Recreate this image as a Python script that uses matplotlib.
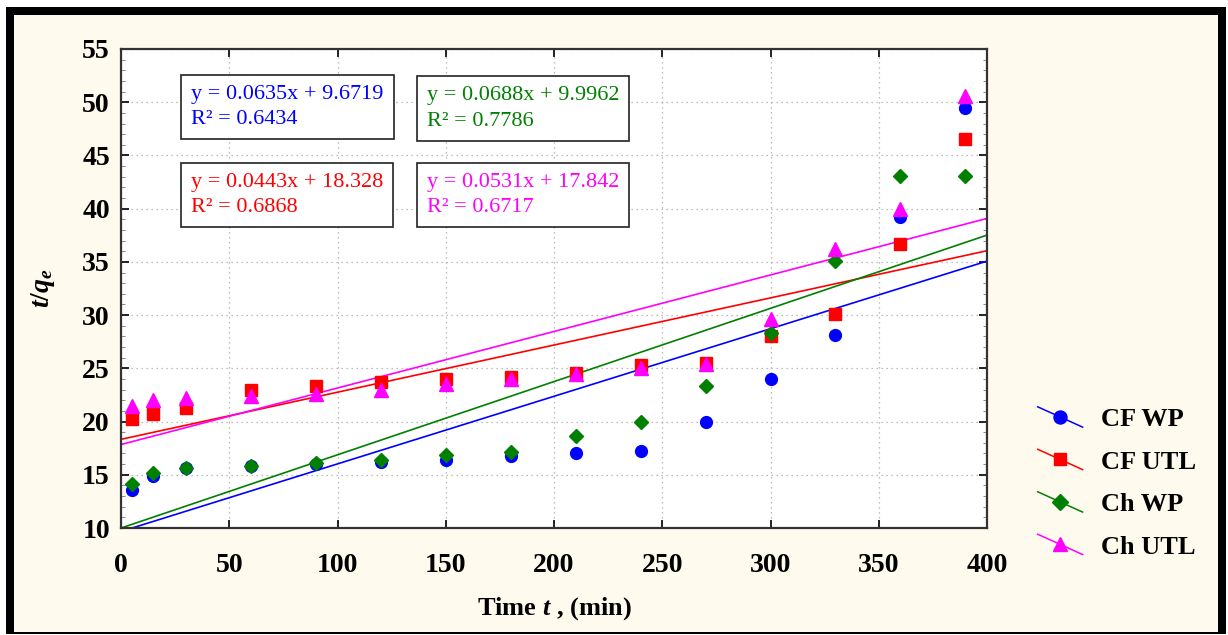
import numpy as np
import matplotlib
matplotlib.use("Agg")
import matplotlib.pyplot as plt
from matplotlib.lines import Line2D
from matplotlib.legend_handler import HandlerLine2D
from matplotlib.patches import Rectangle

plt.rcParams['font.family'] = ['Liberation Serif', 'DejaVu Serif']
plt.rcParams['mathtext.fontset'] = 'custom'
plt.rcParams['mathtext.it'] = 'Liberation Serif:italic:bold'
plt.rcParams['mathtext.rm'] = 'Liberation Serif:bold'

time = [5, 15, 30, 60, 90, 120, 150, 180, 210, 240, 270, 300, 330, 360, 390]
cf_wp = [13.6, 14.9, 15.6, 15.8, 16.0, 16.2, 16.4, 16.8, 17.0, 17.2, 20.0, 24.0, 28.1, 39.2, 49.5]
cf_utl = [20.2, 20.7, 21.3, 23.0, 23.3, 23.7, 24.0, 24.2, 24.6, 25.3, 25.5, 28.0, 30.1, 36.7, 46.5]
ch_wp = [14.1, 15.2, 15.6, 15.8, 16.1, 16.4, 16.9, 17.1, 18.6, 20.0, 23.3, 28.3, 35.1, 43.1, 43.1]
ch_utl = [21.5, 22.0, 22.2, 22.4, 22.6, 23.0, 23.5, 24.0, 24.5, 25.0, 25.4, 29.6, 36.2, 40.0, 50.6]

names = ['CF WP', 'CF UTL', 'Ch WP', 'Ch UTL']
series = [cf_wp, cf_utl, ch_wp, ch_utl]
slopes = [0.0635, 0.0443, 0.0688, 0.0531]
intercepts = [9.6719, 18.328, 9.9962, 17.842]
r2 = [0.6434, 0.6868, 0.7786, 0.6717]

colors = ['#0000FF', '#FF0000', '#008000', '#FF00FF']
markers = ['o', 's', 'D', '^']
msizes = [8.5, 8, 7, 9.5]


class SlantHandler(HandlerLine2D):
    def create_artists(self, legend, orig_handle, xdescent, ydescent,
                       width, height, fontsize, trans):
        xs = [-xdescent, -xdescent + width]
        ys = [-ydescent + height * 1.05, -ydescent - height * 0.05]
        line = Line2D(xs, ys, color=orig_handle.get_color(), lw=1.1)
        mk = Line2D([np.mean(xs)], [np.mean(ys)], linestyle='',
                    marker=orig_handle.get_marker(),
                    markersize=orig_handle.get_markersize() * 1.1,
                    color=orig_handle.get_color())
        line.set_transform(trans)
        mk.set_transform(trans)
        return [line, mk]


fig = plt.figure(figsize=(12.28, 6.35), dpi=100)
fig.patch.set_facecolor('white')
# frame round the whole picture
fig.patches.append(Rectangle((6 / 1228, 1 / 635), 1220 / 1228, 627 / 635,
                             transform=fig.transFigure, facecolor='black',
                             edgecolor='none', zorder=-10))
fig.patches.append(Rectangle((14 / 1228, 3 / 635), 1204 / 1228, 617 / 635,
                             transform=fig.transFigure, facecolor='#FFFAEE',
                             edgecolor='none', zorder=-9))

ax = fig.add_axes([121 / 1228, 107 / 635, 866 / 1228, 479 / 635])
ax.set_facecolor('white')

xfit = np.array([0, 400])
handles = []
for ys, name, c, m, ms, a, b in zip(series, names, colors, markers, msizes, slopes, intercepts):
    ax.plot(time, ys, linestyle='', marker=m, color=c, markersize=ms, zorder=3)
    ax.plot(xfit, a * xfit + b, color=c, lw=1.2, zorder=2)
    handles.append(Line2D([], [], color=c, marker=m, markersize=ms, lw=1.2))

ax.set_xlim(0, 400)
ax.set_ylim(10, 55)
ax.set_xticks(np.arange(0, 401, 50))
ax.set_yticks(np.arange(10, 56, 5))
ax.set_yticks(np.arange(10, 56, 1), minor=True)
ax.grid(True, which='major', linestyle=(0, (1, 3)), color='#A8A8A8', lw=0.9)
ax.tick_params(direction='in', top=True, right=True, length=6, width=1.2,
               labelsize=20)
ax.tick_params(axis='x', pad=18)
ax.tick_params(axis='y', pad=8)
ax.tick_params(which='minor', direction='in', left=True, right=True,
               length=3, color='#777777')
for lab in ax.get_xticklabels() + ax.get_yticklabels():
    lab.set_fontweight('bold')
for sp in ax.spines.values():
    sp.set_linewidth(1.6)
    sp.set_color('#333333')

ax.set_xlabel('Time $t$ , (min)', fontsize=19, fontweight='bold', labelpad=12)
ax.set_ylabel('$t/q_e$', fontsize=20, labelpad=18)

# equation boxes
spots = [(0.081, 0.925), (0.081, 0.742), (0.353, 0.922), (0.353, 0.742)]
for (x, y), a, b, r, c in zip(spots, slopes, intercepts, r2, colors):
    ax.text(x, y, f'y = {a}x + {b}\nR² = {r}', transform=ax.transAxes,
            ha='left', va='top', fontsize=16, color=c, linespacing=1.45,
            bbox=dict(boxstyle='square,pad=0.45', facecolor='white',
                      edgecolor='#222222', lw=1.2), zorder=5)

leg = fig.legend(handles, names, loc='upper left',
                 bbox_to_anchor=(1014 / 1228, 1 - 384 / 635),
                 handler_map={Line2D: SlantHandler()}, frameon=False,
                 prop={'size': 19, 'weight': 'bold'}, handlelength=1.7,
                 handletextpad=0.7, labelspacing=0.72)

fig.savefig('out.png', dpi=100, facecolor=fig.get_facecolor())
